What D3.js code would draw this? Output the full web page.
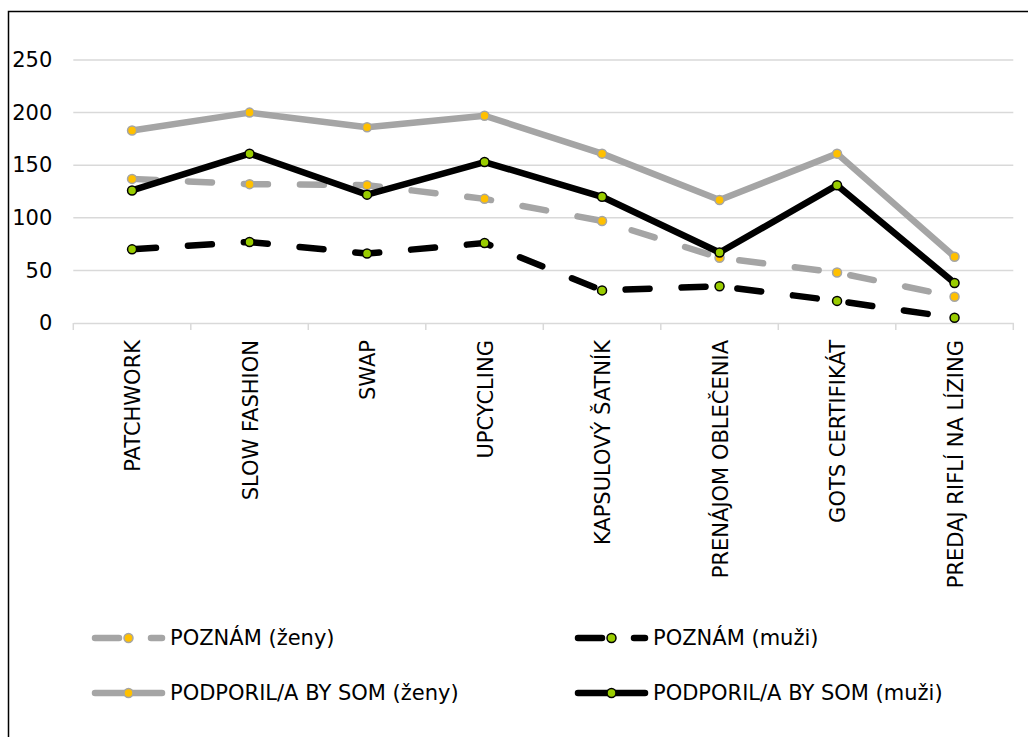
<!DOCTYPE html>
<html>
<head>
<meta charset="utf-8">
<script src="https://cdn.jsdelivr.net/npm/d3@7"></script>
<style>
  html, body { margin: 0; padding: 0; background: #fff; }
  svg { display: block; font-family: "DejaVu Sans", Verdana, sans-serif; }
</style>
</head>
<body>
<svg id="chart" width="1028" height="737"></svg>
<script>
// Categories on the x axis
const categories = [
  "PATCHWORK", "SLOW FASHION", "SWAP", "UPCYCLING",
  "KAPSULOVÝ ŠATNÍK", "PRENÁJOM OBLEČENIA", "GOTS CERTIFIKÁT", "PREDAJ RIFLÍ NA LÍZING"
];

// Series values
const poznamZeny     = [137, 132, 131, 118, 97, 62, 48, 25];
const poznamMuzi     = [70, 77, 66, 76, 31, 35, 21, 5];
const podporilZeny   = [183, 200, 186, 197, 161, 117, 161, 63];
const podporilMuzi   = [126, 161, 122, 153, 120, 67, 131, 38];

const seriesNames = ["POZNÁM (ženy)", "POZNÁM (muži)", "PODPORIL/A BY SOM (ženy)", "PODPORIL/A BY SOM (muži)"];
const yTicks = [0, 50, 100, 150, 200, 250];

// Styling per series
const styles = [
  { values: poznamZeny,   line: "#A5A5A5", fill: "#FFC000", mstroke: "#A5A5A5", dashed: true },
  { values: poznamMuzi,   line: "#000000", fill: "#99CC00", mstroke: "#000000", dashed: true },
  { values: podporilZeny, line: "#A5A5A5", fill: "#FFC000", mstroke: "#A5A5A5", dashed: false },
  { values: podporilMuzi, line: "#000000", fill: "#99CC00", mstroke: "#000000", dashed: false }
];

const svg = d3.select("#chart");
const fontSize = 21;
const lineW = 6.5;
const dash = "24,32";

// Outer frame
svg.append("rect")
  .attr("x", 8.5).attr("y", 11.5)
  .attr("width", 1200).attr("height", 900)
  .attr("fill", "#fff").attr("stroke", "#000").attr("stroke-width", 1.5);

const plot = { left: 73.3, right: 1013.3, top: 60, bottom: 323 };

const x = d3.scaleBand().domain(categories).range([plot.left, plot.right]).padding(0);
const y = d3.scaleLinear().domain([0, 250]).range([plot.bottom, plot.top]);

// Horizontal gridlines
svg.append("g")
  .selectAll("line")
  .data(yTicks.filter(t => t > 0))
  .join("line")
  .attr("x1", plot.left).attr("x2", plot.right)
  .attr("y1", d => y(d)).attr("y2", d => y(d))
  .attr("stroke", "#D9D9D9").attr("stroke-width", 1.5);

// Y axis labels
const yAxis = svg.append("g")
  .attr("transform", `translate(${plot.left - 21},0)`)
  .call(d3.axisLeft(y).tickValues(yTicks).tickSize(0).tickPadding(0));
yAxis.select(".domain").remove();
yAxis.selectAll("text")
  .attr("font-size", fontSize)
  .attr("font-family", "'DejaVu Sans', Verdana, sans-serif")
  .attr("fill", "#000");

// X axis: baseline, tick marks at category boundaries, rotated labels
const xAxis = svg.append("g")
  .attr("transform", `translate(0,${plot.bottom})`)
  .call(d3.axisBottom(x).tickSize(0).tickPadding(0));
xAxis.select(".domain").attr("stroke", "#D9D9D9").attr("stroke-width", 1.5);
xAxis.selectAll("text")
  .attr("font-size", fontSize)
  .attr("font-family", "'DejaVu Sans', Verdana, sans-serif")
  .attr("fill", "#000")
  .attr("text-anchor", "end")
  .attr("dy", null)
  .attr("transform", "translate(8,17) rotate(-90)");

const boundaries = categories.map(c => x(c)).concat([x.range()[1]]);
svg.append("g")
  .selectAll("line")
  .data(boundaries)
  .join("line")
  .attr("x1", d => d).attr("x2", d => d)
  .attr("y1", plot.bottom).attr("y2", plot.bottom + 7)
  .attr("stroke", "#D9D9D9").attr("stroke-width", 1.5);

// Series lines and markers
const cx = c => x(c) + x.bandwidth() / 2;
const line = d3.line().x((d, i) => cx(categories[i])).y(d => y(d));

styles.forEach(s => {
  const g = svg.append("g");
  g.append("path")
    .attr("d", line(s.values))
    .attr("fill", "none")
    .attr("stroke", s.line)
    .attr("stroke-width", lineW)
    .attr("stroke-linejoin", "round")
    .attr("stroke-linecap", "round")
    .attr("stroke-dasharray", s.dashed ? dash : null);
  g.selectAll("circle")
    .data(s.values)
    .join("circle")
    .attr("cx", (d, i) => cx(categories[i]))
    .attr("cy", d => y(d))
    .attr("r", 4.5)
    .attr("fill", s.fill)
    .attr("stroke", s.mstroke)
    .attr("stroke-width", 1.5);
});

// Legend (2 columns x 2 rows)
const legendPos = [
  { x: 95, y: 638 }, { x: 578, y: 638 },
  { x: 95, y: 693 }, { x: 578, y: 693 }
];
styles.forEach((s, i) => {
  const p = legendPos[i];
  const g = svg.append("g");
  g.append("line")
    .attr("x1", p.x).attr("x2", p.x + 67)
    .attr("y1", p.y).attr("y2", p.y)
    .attr("stroke", s.line)
    .attr("stroke-width", lineW)
    .attr("stroke-linecap", "round")
    .attr("stroke-dasharray", s.dashed ? dash : null);
  g.append("circle")
    .attr("cx", p.x + 33.5).attr("cy", p.y)
    .attr("r", 4.5)
    .attr("fill", s.fill)
    .attr("stroke", s.mstroke)
    .attr("stroke-width", 1.5);
  g.append("text")
    .attr("x", p.x + 75).attr("y", p.y)
    .attr("dy", "0.35em")
    .attr("font-size", fontSize)
    .attr("fill", "#000")
    .text(seriesNames[i]);
});
</script>
</body>
</html>
